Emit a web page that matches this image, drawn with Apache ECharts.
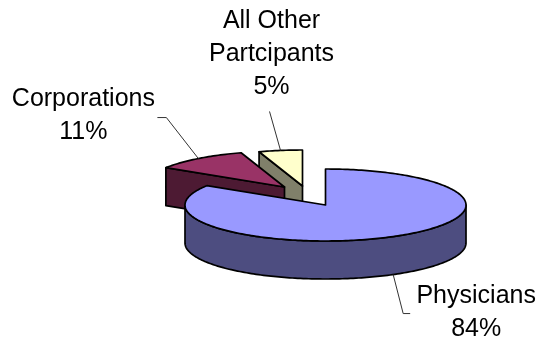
<!DOCTYPE html>
<html>
<head>
<meta charset="utf-8">
<script src="https://cdn.jsdelivr.net/npm/echarts@6/dist/echarts.min.js"></script>
<style>
  html, body { margin: 0; padding: 0; background: #fff; }
  #chart { width: 543px; height: 339px; }
</style>
</head>
<body>
<div id="chart"></div>
<script>
// Slice names and their shares (percent)
const categories = ['Physicians', 'Corporations', 'All Other\nPartcipants'];
const shares = [84, 11, 5];

// Colours: top face, rim wall, cut face
const topColors = ['#9999ff', '#993366', '#ffffcc'];
const rimColors = ['#4d4d80', '#4d1a33', '#80806a'];
const cutColors = ['#4d4d80', '#4d1a33', '#80806a'];

// Geometry of the tilted disc
const CX = 325.5, CY = 205, RX = 140.5, RY = 36, DEPTH = 38;
// Pull-out of each slice from the centre (screen px)
const explode = [[0, 0], [-41, -18], [-23, -19]];
// Leader polyline (relative to the rim point at the slice middle) and label centre offset
const leaders = [
  [[10, 39], [17, 39]],
  [[-32, -41], [-41, -41]],
  [[-11, -39]]
];
const labelOffsets = [[83, 38], [-115, -43], [-9, -96]];
const labelWithWall = [true, false, false];
// Paint order: later slices sit behind
const paintOrder = [30, 20, 10];

const chart = echarts.init(document.getElementById('chart'), null, { renderer: 'canvas' });

function arcPoints(a0, a1, ox, oy, h) {
  const pts = [];
  const n = Math.max(2, Math.ceil(Math.abs(a1 - a0) / 0.02));
  for (let k = 0; k <= n; k++) {
    const t = a0 + (a1 - a0) * k / n;
    pts.push([CX + ox + RX * Math.sin(t), CY + oy - RY * Math.cos(t) + h]);
  }
  return pts;
}

function renderItem(params, api) {
  const i = params.dataIndex;
  const total = shares.reduce((a, b) => a + b, 0);
  let before = 0;
  for (let k = 0; k < i; k++) before += shares[k];
  const value = api.value(1);
  const a0 = before / total * 2 * Math.PI;
  const a1 = (before + value) / total * 2 * Math.PI;
  const ox = explode[i][0], oy = explode[i][1];
  const z2 = paintOrder[i];
  const stroke = { stroke: '#000', lineWidth: 1.7, lineJoin: 'round' };
  const cx = CX + ox, cy = CY + oy;
  const children = [];

  const rimPt = (t, h) => [cx + RX * Math.sin(t), cy - RY * Math.cos(t) + h];

  // Cut face at the start angle
  if (Math.sin(a0) < -1e-6) {
    const p = rimPt(a0, 0);
    children.push({
      type: 'polygon', z2: z2,
      shape: { points: [[cx, cy], p, [p[0], p[1] + DEPTH], [cx, cy + DEPTH]] },
      style: Object.assign({ fill: cutColors[i] }, stroke)
    });
  }
  // Cut face at the end angle
  if (Math.sin(a1) > 1e-6) {
    const p = rimPt(a1, 0);
    children.push({
      type: 'polygon', z2: z2,
      shape: { points: [[cx, cy], p, [p[0], p[1] + DEPTH], [cx, cy + DEPTH]] },
      style: Object.assign({ fill: cutColors[i] }, stroke)
    });
  }
  // Front rim wall
  const w0 = Math.max(a0, Math.PI / 2), w1 = Math.min(a1, Math.PI * 1.5);
  if (w1 > w0) {
    const topArc = arcPoints(w0, w1, ox, oy, 0);
    const botArc = arcPoints(w1, w0, ox, oy, DEPTH);
    children.push({
      type: 'polygon', z2: z2 + 1,
      shape: { points: topArc.concat(botArc) },
      style: Object.assign({ fill: rimColors[i] }, stroke)
    });
  }
  // Top face
  const face = [[cx, cy]].concat(arcPoints(a0, a1, ox, oy, 0));
  children.push({
    type: 'polygon', z2: z2 + 2,
    shape: { points: face },
    style: Object.assign({ fill: topColors[i] }, stroke)
  });

  // Leader line and label
  const mid = (a0 + a1) / 2;
  const anchor = rimPt(mid, labelWithWall[i] ? DEPTH : 0);
  const line = [anchor].concat(leaders[i].map(d => [anchor[0] + d[0], anchor[1] + d[1]]));
  children.push({
    type: 'polyline', z2: 50,
    shape: { points: line },
    style: { stroke: '#333', lineWidth: 1, fill: null }
  });
  children.push({
    type: 'text', z2: 51,
    x: anchor[0] + labelOffsets[i][0],
    y: anchor[1] + labelOffsets[i][1],
    style: {
      text: categories[i] + '\n' + Math.round(value / total * 100) + '%',
      fill: '#000',
      font: '25px "Liberation Sans", Arial, sans-serif',
      lineHeight: 33,
      align: 'center',
      verticalAlign: 'middle'
    }
  });

  return { type: 'group', children: children };
}

chart.setOption({
  animation: false,
  backgroundColor: '#fff',
  series: [{
    type: 'custom',
    coordinateSystem: 'none',
    renderItem: renderItem,
    data: shares.map((v, i) => [i, v])
  }]
});
</script>
</body>
</html>
